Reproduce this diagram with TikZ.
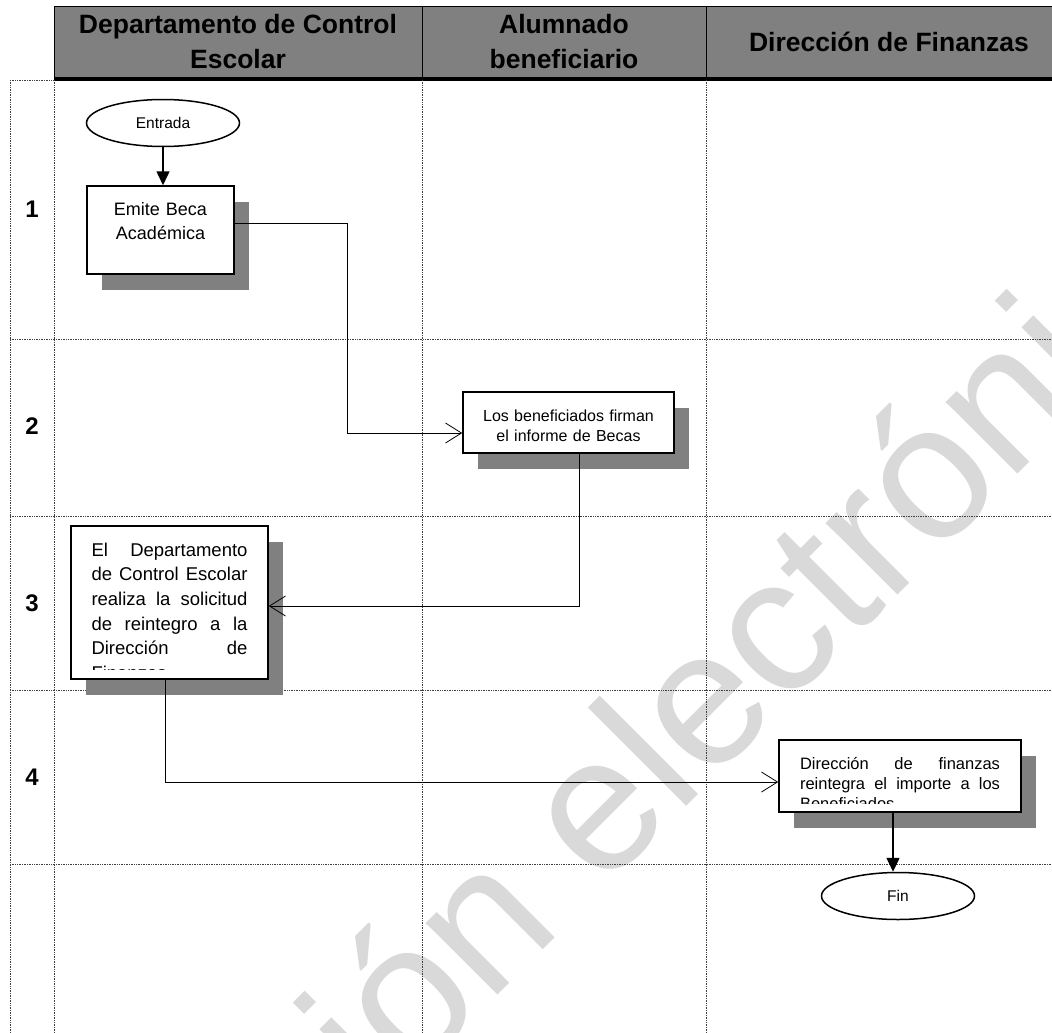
\documentclass[tikz,border=0pt]{standalone}
\usepackage{fontspec}
\setmainfont{Liberation Sans}
\usetikzlibrary{arrows.meta,shapes.geometric,shadows}
\definecolor{headgray}{RGB}{128,128,128}
\definecolor{shadegray}{RGB}{128,128,128}
\definecolor{markgray}{RGB}{217,217,217}
\begin{document}
\begin{tikzpicture}[x=1pt,y=-1pt]
	\tikzstyle{lane}=[densely dotted, draw=black!75, line width=0.7pt]
	\tikzstyle{head}=[align=center, font=\fontsize{26.5}{35}\selectfont\bfseries]
	\tikzstyle{rowno}=[font=\fontsize{24}{24}\selectfont\bfseries]
	\tikzstyle{place}=[ellipse, draw=black, line width=1.5pt, fill=white, minimum width=153pt, minimum height=47pt, font=\fontsize{15.5}{18}\selectfont]
	\tikzstyle{proc}=[rectangle, draw=black, line width=1.5pt, fill=white, inner sep=0pt, drop shadow={shadow xshift=15pt, shadow yshift=-16pt, fill=shadegray, opacity=1}]
	\tikzstyle{proctext}=[anchor=north, minimum width=0pt, minimum height=0pt, inner sep=0pt, draw=none, fill=none]
	\tikzstyle{flow}=[-{Straight Barb[length=16pt,width=20pt]}, line width=0.8pt]
	\tikzstyle{down}=[-{Triangle[length=14pt,width=13pt]}, line width=1.5pt]
	
	\useasboundingbox (0,0) rectangle (1052,1033);
	\clip (0,0) rectangle (1052,1033);
	
	% marca de agua
	\node [rotate=45, anchor=base, text=markgray, font=\fontsize{192}{192}\selectfont] at (684.7,808.1) (marca) {Versión electrónica};
	
	% encabezado
	\draw [fill=headgray, line width=1pt] (54,7) rectangle (1070,79);
	\draw [line width=1pt] (422,7) -- (422,79);
	\draw [line width=1pt] (706,7) -- (706,79);
	\draw [line width=3pt] (54,79) -- (1070,79);
	\node [head] at (238,42) (hcontrol) {Departamento de Control\\Escolar};
	\node [head] at (564,42) (halumnado) {Alumnado\\beneficiario};
	\node [head] at (889,42) (hfinanzas) {Dirección de Finanzas};
	
	% carriles
	\draw [lane] (10,80) -- (54,80);
	\draw [lane] (10,80) -- (10,1033);
	\draw [lane] (54,80) -- (54,1033);
	\draw [lane] (422,80) -- (422,1033);
	\draw [lane] (706,80) -- (706,1033);
	\draw [lane] (10,339) -- (1052,339);
	\draw [lane] (10,516) -- (1052,516);
	\draw [lane] (10,690) -- (1052,690);
	\draw [lane] (10,864) -- (1052,864);
	
	\node [rowno] at (32,209) (r1) {1};
	\node [rowno] at (32,426) (r2) {2};
	\node [rowno] at (32,603) (r3) {3};
	\node [rowno] at (32,777) (r4) {4};
	
	% pasos
	\node at (163,123) [place] (entrada) {Entrada};
	
	\node at (160.5,230) [proc, minimum width=147pt, minimum height=88pt,
		path picture={\node [proctext, text width=140pt, align=center, font=\fontsize{18}{24}\selectfont] at ([yshift=-16pt]path picture bounding box.north) {Emite Beca\\Académica};}] (emite) {};
	
	\node at (568.5,422.5) [proc, minimum width=211pt, minimum height=61pt,
		path picture={\node [proctext, text width=205pt, align=center, font=\fontsize{16}{20}\selectfont] at ([yshift=-17pt]path picture bounding box.north) {Los beneficiados firman\\el informe de Becas};}] (firman) {};
	
	\node at (169.5,602.5) [proc, minimum width=197pt, minimum height=153pt,
		path picture={\clip ([yshift=10pt]path picture bounding box.south west) rectangle (path picture bounding box.north east);
		\node [proctext, text width=156pt, align=justify, font=\fontsize{18.5}{24.7}\selectfont] at ([yshift=-16pt]path picture bounding box.north) {El Departamento\linebreak de Control Escolar\linebreak realiza la solicitud\linebreak de reintegro a la\linebreak Dirección de\linebreak Finanzas};}] (solicitud) {};
	
	\node at (900,776) [proc, minimum width=242pt, minimum height=72pt,
		path picture={\clip ([yshift=9pt]path picture bounding box.south west) rectangle (path picture bounding box.north east);
		\node [proctext, text width=200pt, align=justify, font=\fontsize{16.5}{20}\selectfont] at ([yshift=-17pt]path picture bounding box.north) {Dirección de finanzas\linebreak reintegra el importe a los\linebreak Beneficiados};}] (importe) {};
	
	\node at (898,896) [place] (fin) {Fin};
	
	\coordinate (k1) at (347,433);
	
	\draw [down] (entrada) -- (entrada |- emite.north);
	\draw [flow] ([yshift=7pt]emite.east) -| (k1) -- ([yshift=-10.5pt]firman.west);
	\draw [flow] ([xshift=10.5pt]firman.south) |- ([yshift=-3.5pt]solicitud.east);
	\draw [flow] ([xshift=-4.5pt]solicitud.south) |- ([yshift=-6pt]importe.west);
	\draw [down] ([xshift=-7pt]importe.south) -- ([xshift=-7pt]importe.south |- fin.north);
\end{tikzpicture}
\end{document}
